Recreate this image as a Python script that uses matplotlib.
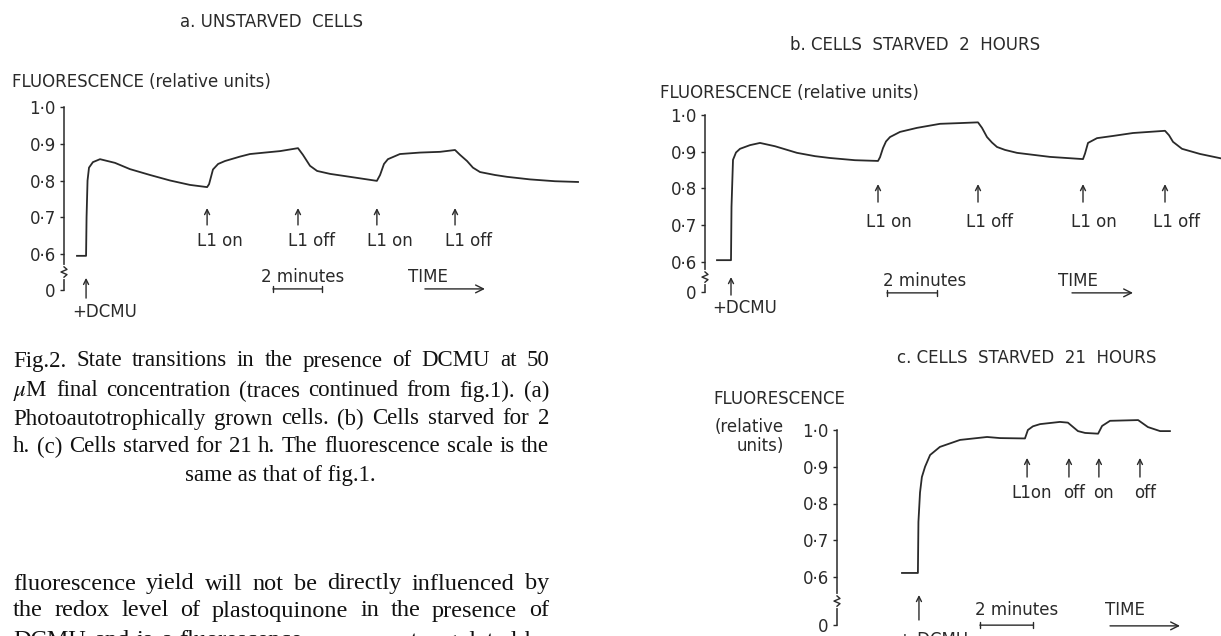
import matplotlib.pyplot as plt

plt.rcParams['font.family'] = ['DejaVu Sans']
plt.rcParams['mathtext.fontset'] = 'stix'

INK = '#2a2a2a'
SANS = 12

# --- data (time in minutes from the start of each trace, fluorescence in relative units)
time_a = [0, 0.37, 0.39, 0.43, 0.49, 0.65, 0.94, 1.55, 2.16, 2.98,
          3.80, 4.61, 5.31, 5.39, 5.55, 5.76, 6.04, 6.65, 7.06, 7.67,
          8.29, 9.02, 9.22, 9.51, 9.80, 10.33, 11.14, 12.24, 12.37, 12.53,
          12.69, 13.18, 14.00, 14.82, 15.43, 15.63, 15.92, 16.16, 16.45, 17.06,
          17.55, 18.49, 19.51, 20.45]
fluor_a = [0.595, 0.595, 0.70, 0.80, 0.835, 0.85, 0.858, 0.848, 0.831, 0.815,
           0.80, 0.788, 0.782, 0.79, 0.83, 0.845, 0.853, 0.865, 0.872, 0.876,
           0.88, 0.888, 0.87, 0.84, 0.826, 0.818, 0.81, 0.799, 0.815, 0.845,
           0.858, 0.872, 0.876, 0.878, 0.883, 0.87, 0.853, 0.835, 0.823, 0.815,
           0.81, 0.803, 0.798, 0.796]
events_a = [5.31, 9.02, 12.24, 15.43]
labels_a = ['L1 on', 'L1 off', 'L1 on', 'L1 off']
dcmu_a = 0.37

time_b = [0, 0.56, 0.58, 0.64, 0.76, 0.92, 1.32, 1.72, 2.32, 3.20,
          3.92, 4.52, 5.52, 6.44, 6.52, 6.64, 6.76, 6.92, 7.32, 8.00,
          8.92, 9.72, 10.44, 10.60, 10.80, 11.00, 11.20, 11.52, 12.00, 13.32,
          14.64, 14.72, 14.84, 15.20, 15.84, 16.64, 17.92, 18.08, 18.24, 18.60,
          19.32, 20.16]
fluor_b = [0.605, 0.605, 0.75, 0.878, 0.898, 0.908, 0.918, 0.924, 0.915, 0.897,
           0.888, 0.883, 0.877, 0.875, 0.885, 0.91, 0.928, 0.94, 0.954, 0.965,
           0.976, 0.978, 0.98, 0.965, 0.94, 0.925, 0.913, 0.905, 0.897, 0.886,
           0.88, 0.895, 0.924, 0.937, 0.943, 0.951, 0.957, 0.945, 0.927, 0.908,
           0.894, 0.882]
events_b = [6.44, 10.44, 14.64, 17.92]
labels_b = ['L1 on', 'L1 off', 'L1 on', 'L1 off']
dcmu_b = 0.56

time_c = [0, 0.60, 0.62, 0.68, 0.75, 0.87, 1.06, 1.43, 2.19, 3.21,
          3.70, 4.64, 4.75, 4.94, 5.21, 5.96, 6.26, 6.64, 6.91, 7.40,
          7.55, 7.85, 8.91, 9.28, 9.74, 10.11]
fluor_c = [0.611, 0.611, 0.75, 0.83, 0.872, 0.90, 0.932, 0.954, 0.973, 0.981,
           0.978, 0.977, 1.0, 1.01, 1.016, 1.022, 1.02, 0.997, 0.992, 0.99,
           1.011, 1.025, 1.027, 1.008, 0.997, 0.997]
events_c = [4.72, 6.30, 7.43, 8.98]
labels_c = ['L1on', 'off', 'on', 'off']
dcmu_c = 0.64

ytick_vals = [0.6, 0.7, 0.8, 0.9, 1.0]
ytick_labels = ['0·6', '0·7', '0·8', '0·9', '1·0']

caption = [
    'Fig.2. State transitions in the presence of DCMU at 50',
    r'$\mu$M final concentration (traces continued from fig.1). (a)',
    'Photoautotrophically grown cells. (b) Cells starved for 2',
    'h. (c) Cells starved for 21 h. The fluorescence scale is the',
]
caption_last = 'same as that of fig.1.'
body = [
    'fluorescence yield will not be directly influenced by',
    'the redox level of plastoquinone in the presence of',
    'DCMU and is a fluorescence component regulated by',
]

W, H = 1221, 636
fig = plt.figure(figsize=(W / 100, H / 100), dpi=100)
fig.patch.set_facecolor('white')


def ftext(px, py, s, **kw):
    kw.setdefault('color', INK)
    kw.setdefault('fontsize', SANS)
    return fig.text(px / W, 1 - py / H, s, **kw)


def panel(spine_px, t0_px, ppm, y06_px, right_px, top_px, bot_px, zero):
    # place an axes so that its scales line up with the scanned layout
    ax = fig.add_axes([spine_px / W, 1 - bot_px / H,
                       (right_px - spine_px) / W, (bot_px - top_px) / H])
    ax.set_xlim((spine_px - t0_px) / ppm, (right_px - t0_px) / ppm)
    ax.set_ylim(0.6 - (bot_px - y06_px) / 367.5, 0.6 + (y06_px - top_px) / 367.5)
    ax.patch.set_alpha(0)
    for s in ['top', 'right', 'bottom']:
        ax.spines[s].set_visible(False)
    ax.spines['left'].set_bounds(zero, 1.0)
    ax.spines['left'].set_color(INK)
    ax.spines['left'].set_linewidth(1.1)
    ax.set_xticks([])
    ax.set_yticks([zero] + ytick_vals)
    ax.set_yticklabels(['0'] + ytick_labels)
    ax.tick_params(axis='y', length=3, width=1, pad=3, colors=INK, labelsize=SANS)
    # broken axis between 0 and 0.6
    yb = (zero + 0.6) / 2
    x0 = ax.get_xlim()[0]
    dx = 3 / ppm
    ax.plot([x0, x0], [yb - 0.014, yb + 0.014], color='white', lw=3,
            clip_on=False, zorder=3)
    ax.plot([x0, x0 + dx, x0 - dx, x0 + dx, x0],
            [yb + 0.014, yb + 0.007, yb, yb - 0.007, yb - 0.014],
            color=INK, lw=1, clip_on=False, zorder=4)
    return ax


def up_arrow(ax, x, y0, y1):
    ax.annotate('', xy=(x, y1), xytext=(x, y0), annotation_clip=False,
                arrowprops=dict(arrowstyle='->', lw=1, color=INK,
                                mutation_scale=9, shrinkA=0, shrinkB=0))


def extras(ax, bar, bar_y, mins_xy, time_xy, tarrow, ha='center'):
    ax.annotate('', xy=(bar[1], bar_y), xytext=(bar[0], bar_y), annotation_clip=False,
                arrowprops=dict(arrowstyle='|-|, widthA=0.2, widthB=0.2', lw=1,
                                color=INK, shrinkA=0, shrinkB=0))
    ax.text(mins_xy[0], mins_xy[1], '2 minutes', ha=ha, va='center',
            fontsize=SANS, color=INK)
    ax.text(time_xy[0], time_xy[1], 'TIME', ha=ha, va='center',
            fontsize=SANS, color=INK)
    ax.annotate('', xy=(tarrow[1], tarrow[2]), xytext=(tarrow[0], tarrow[2]),
                annotation_clip=False,
                arrowprops=dict(arrowstyle='->', lw=1, color=INK,
                                mutation_scale=14, shrinkA=0, shrinkB=0))


# ---------------- panel a
ax = panel(64, 77, 24.5, 254, 600, 100, 320, 0.502)
ax.plot(time_a, fluor_a, color=INK, lw=1.3)
for t, lab in zip(events_a, labels_a):
    up_arrow(ax, t, 0.679, 0.725)
    ax.text(t - 0.41, 0.635, lab, ha='left', va='center', fontsize=SANS, color=INK)
up_arrow(ax, dcmu_a, 0.48, 0.535)
ax.text(-0.2, 0.442, '+DCMU', ha='left', va='center', fontsize=SANS, color=INK)
extras(ax, (8.0, 10.0), 0.505, (9.22, 0.537), (14.33, 0.537), (14.2, 16.65, 0.505))
ftext(272, 22, 'a. UNSTARVED  CELLS', ha='center', va='center')
ftext(12, 82, 'FLUORESCENCE (relative units)', ha='left', va='center')

# ---------------- panel b
ax = panel(705, 717, 25, 262, 1221, 105, 320, 0.518)
ax.plot(time_b, fluor_b, color=INK, lw=1.3)
for t, lab in zip(events_b, labels_b):
    up_arrow(ax, t, 0.763, 0.812)
    ax.text(t - 0.48, 0.709, lab, ha='left', va='center', fontsize=SANS, color=INK)
up_arrow(ax, dcmu_b, 0.51, 0.559)
ax.text(-0.2, 0.475, '+DCMU', ha='left', va='center', fontsize=SANS, color=INK)
extras(ax, (6.8, 8.8), 0.516, (6.64, 0.548), (13.64, 0.548), (14.2, 16.64, 0.516), ha='left')
ftext(915, 45, 'b. CELLS  STARVED  2  HOURS', ha='center', va='center')
ftext(660, 93, 'FLUORESCENCE (relative units)', ha='left', va='center')

# ---------------- panel c
ax = panel(837, 902, 26.5, 577, 1221, 410, 636, 0.469)
ax.plot(time_c, fluor_c, color=INK, lw=1.3)
for t, lab in zip(events_c, labels_c):
    up_arrow(ax, t, 0.872, 0.924)
    ax.text(t + 0.19, 0.829, lab, ha='center', va='center', fontsize=SANS, color=INK)
up_arrow(ax, dcmu_c, 0.483, 0.551)
ax.text(-0.15, 0.429, '+ DCMU', ha='left', va='center', fontsize=SANS, color=INK)
extras(ax, (2.94, 4.94), 0.469, (2.75, 0.51), (7.66, 0.51), (7.85, 10.49, 0.467), ha='left')
ftext(1027, 358, 'c. CELLS  STARVED  21  HOURS', ha='center', va='center')
ftext(713, 399, 'FLUORESCENCE', ha='left', va='center')
ftext(715, 427, '(relative', ha='left', va='center')
ftext(737, 446, 'units)', ha='left', va='center')


# ---------------- caption and body text (justified like the printed page)
def justified(line, x0, x1, py, size):
    words = line.split()
    texts = [ftext(0, py, w, fontsize=size, family='Liberation Serif',
                   color='#111111', va='center', ha='left') for w in words]
    r = fig.canvas.get_renderer()
    widths = [t.get_window_extent(r).width for t in texts]
    gap = (x1 - x0 - sum(widths)) / (len(words) - 1)
    x = x0
    for t, w in zip(texts, widths):
        t.set_x(x / W)
        x += w + gap


for line, py in zip(caption, [361, 391, 419, 447]):
    justified(line, 13, 549, py, 16.5)
ftext(280, 476, caption_last, fontsize=16.5, family='Liberation Serif',
      color='#111111', ha='center', va='center')

for line, py in zip(body, [584, 611, 641]):
    justified(line, 13, 549, py, 17.5)

fig.savefig('out.png', dpi=100, facecolor='white')
